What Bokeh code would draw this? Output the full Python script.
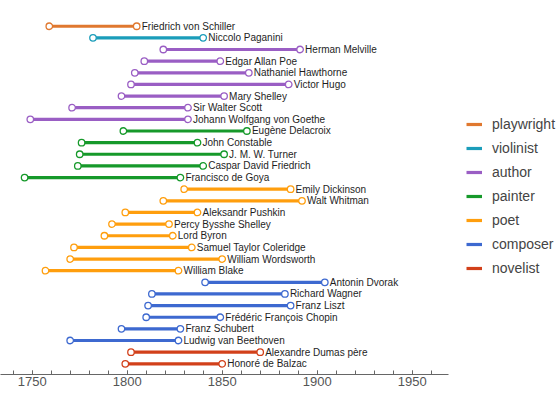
from bokeh.plotting import figure
from bokeh.models import ColumnDataSource, Legend, LegendItem, FixedTicker
from bokeh.core.properties import value
from bokeh.embed import file_html
from bokeh.resources import INLINE

# ---- data (top to bottom) ----
names = ["Friedrich von Schiller", "Niccolo Paganini", "Herman Melville", "Edgar Allan Poe",
         "Nathaniel Hawthorne", "Victor Hugo", "Mary Shelley", "Sir Walter Scott",
         "Johann Wolfgang von Goethe", "Eugène Delacroix", "John Constable", "J. M. W. Turner",
         "Caspar David Friedrich", "Francisco de Goya", "Emily Dickinson", "Walt Whitman",
         "Aleksandr Pushkin", "Percy Bysshe Shelley", "Lord Byron", "Samuel Taylor Coleridge",
         "William Wordsworth", "William Blake", "Antonin Dvorak", "Richard Wagner", "Franz Liszt",
         "Frédéric François Chopin", "Franz Schubert", "Ludwig van Beethoven",
         "Alexandre Dumas père", "Honoré de Balzac"]
births = [1759, 1782, 1819, 1809, 1804, 1802, 1797, 1771, 1749, 1798, 1776, 1775, 1774, 1746,
          1830, 1819, 1799, 1792, 1788, 1772, 1770, 1757, 1841, 1813, 1811, 1810, 1797, 1770,
          1802, 1799]
deaths = [1805, 1840, 1891, 1849, 1864, 1885, 1851, 1832, 1832, 1863, 1837, 1851, 1840, 1828,
          1886, 1892, 1837, 1822, 1824, 1834, 1850, 1827, 1904, 1883, 1886, 1849, 1828, 1827,
          1870, 1850]
roles = ["playwright", "violinist", "author", "author", "author", "author", "author", "author",
         "author", "painter", "painter", "painter", "painter", "painter", "poet", "poet", "poet",
         "poet", "poet", "poet", "poet", "poet", "composer", "composer", "composer", "composer",
         "composer", "composer", "novelist", "novelist"]
categories = ["playwright", "violinist", "author", "painter", "poet", "composer", "novelist"]
colors = ["#E0782F", "#1B9DBA", "#9A5EC4", "#16992A", "#FF9E0D", "#3D69D0", "#D2401A"]
tick_values = [1750, 1800, 1850, 1900, 1950]
tick_labels = ["1750", "1800", "1850", "1900", "1950"]
minor_tick_values = list(range(1740, 1961, 10))

n = len(names)
rows = [n - 1 - i for i in range(n)]

PXPY = 1.9
W = 559
H = 397
X0 = 1750 - 31.7 / PXPY
X1 = X0 + W / PXPY
AX_END = 1969.1
ROW_PX = 11.64
FRAME_H = 374
Y0 = -0.92
Y1 = Y0 + FRAME_H / ROW_PX

FONT_NAME = "Liberation Sans"
FONT = value(FONT_NAME)

p = figure(width=W, height=H, output_backend="svg", toolbar_location=None,
           x_range=(X0, X1), y_range=(Y0, Y1), y_axis_location=None,
           min_border_left=0, min_border_right=0, min_border_top=0,
           min_border_bottom=H - FRAME_H)
p.outline_line_color = None
p.xgrid.visible = False
p.ygrid.visible = False
p.background_fill_color = "white"
p.border_fill_color = "white"

items = []
for cat, col in zip(categories, colors):
    idx = [i for i in range(n) if roles[i] == cat]
    src = ColumnDataSource(dict(
        name=[names[i] for i in idx],
        birth=[births[i] for i in idx],
        death=[deaths[i] for i in idx],
        row=[rows[i] for i in idx],
    ))
    r = p.segment(x0="birth", y0="row", x1="death", y1="row", source=src,
                  line_color=col, line_width=3.2)
    for xf in ("birth", "death"):
        p.scatter(x=xf, y="row", source=src, marker="circle", size=6.5,
                  fill_color="white", line_color=col, line_width=1.3)
    p.text(x="death", y="row", text="name", source=src, x_offset=5,
           text_baseline="middle", text_align="left", text_font=FONT,
           text_font_size="10px", text_color="#1e1e1e")
    items.append(LegendItem(label=cat, renderers=[r]))

legend = Legend(items=items, location=(466, 96), padding=0, margin=0,
                glyph_width=16, glyph_height=20, label_height=20, spacing=4,
                label_standoff=10, label_text_font=FONT_NAME, label_text_font_size="14px",
                label_text_color="#444444", background_fill_alpha=0,
                border_line_color=None)
p.add_layout(legend)

ax = p.xaxis[0]
ax.ticker = FixedTicker(ticks=tick_values, minor_ticks=minor_tick_values)
ax.major_label_overrides = {v: s for v, s in zip(tick_values, tick_labels)}
ax.bounds = (X0, AX_END)
ax.major_tick_in = 4
ax.major_tick_out = 0
ax.minor_tick_in = 4
ax.minor_tick_out = 0
ax.major_label_standoff = 2
ax.major_label_text_font = FONT_NAME
ax.major_label_text_font_size = "13px"
ax.major_label_text_color = "#555555"
ax.axis_line_color = "#666666"
ax.major_tick_line_color = "#666666"
ax.minor_tick_line_color = "#666666"

open("out.html", "w").write(file_html(p, INLINE))
